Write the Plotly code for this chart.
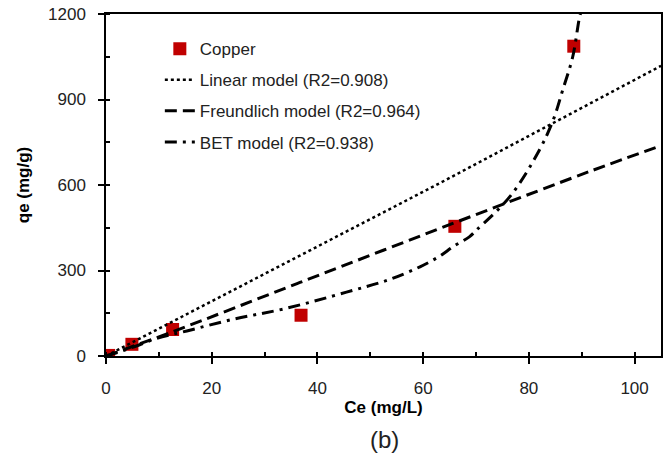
import plotly.graph_objects as go

# Experimental data
ce_copper = [0.5, 4.9, 12.6, 36.9, 66.0, 88.5]
qe_copper = [2, 41, 93, 143, 455, 1087]

# Model curves
ce_linear = [0, 36.7, 63.1, 105]
qe_linear = [0, 354, 606, 1018]

ce_freund = [0, 12.7, 36.7, 69.4, 92.0, 105]
qe_freund = [0, 86, 258, 492, 651, 738]

ce_bet = [0, 0.8, 5, 9.6, 15.3, 24.1, 33.8, 45.5, 53.7, 59.4, 63.1, 65.7, 68.8, 70.1,
          76.4, 82.0, 84.6, 86.4, 88.3, 89.6, 90.0]
qe_bet = [0, 4, 30, 62, 88, 129, 166, 224, 269, 313, 350, 384, 419, 442,
          559, 723, 828, 933, 1050, 1190, 1215]

legend_names = ["Copper", "Linear model (R2=0.908)", "Freundlich model (R2=0.964)",
                "BET model (R2=0.938)"]

x_ticks = [0, 20, 40, 60, 80, 100]
y_ticks = [0, 300, 600, 900, 1200]

FONT = "Liberation Sans, Arial, sans-serif"

fig = go.Figure()
fig.add_trace(go.Scatter(x=ce_copper, y=qe_copper, mode="markers", name=legend_names[0],
                         legendgroup="a",
                         marker=dict(symbol="square", size=13, color="#C00000")))
fig.add_trace(go.Scatter(x=ce_linear, y=qe_linear, mode="lines", name=legend_names[1],
                         legendgroup="b",
                         line=dict(color="black", width=2.5, dash="dot")))
fig.add_trace(go.Scatter(x=ce_freund, y=qe_freund, mode="lines", name=legend_names[2],
                         legendgroup="c", line_shape="spline",
                         line=dict(color="black", width=3, dash="12px,6px")))
fig.add_trace(go.Scatter(x=ce_bet, y=qe_bet, mode="lines", name=legend_names[3],
                         legendgroup="d", line_shape="spline",
                         line=dict(color="black", width=3, dash="12px,6px,3px,6px")))

axis_common = dict(showgrid=False, zeroline=False, showline=True, linecolor="black",
                   linewidth=1.5, mirror=True, ticks="outside", ticklen=6, tickwidth=1.5,
                   tickcolor="black", tickfont=dict(family=FONT, size=17, color="#222"))

fig.update_xaxes(range=[0, 105], tickvals=x_ticks, ticklabelstandoff=10,
                 minor=dict(dtick=10, tick0=0, ticks="inside", ticklen=4, tickwidth=1.5,
                            tickcolor="black"),
                 title=dict(text="<b>Ce (mg/L)</b>", standoff=3,
                            font=dict(family=FONT, size=17, color="black")),
                 **axis_common)
fig.update_yaxes(range=[0, 1200], tickvals=y_ticks, ticklabelstandoff=9,
                 minor=dict(dtick=150, tick0=0, ticks="inside", ticklen=4, tickwidth=1.5,
                            tickcolor="black"),
                 title=dict(text="<b>qe (mg/g)</b>", standoff=14,
                            font=dict(family=FONT, size=17, color="black")),
                 **axis_common)

fig.add_annotation(text="(b)", xref="paper", yref="paper", x=0.501, y=-0.245,
                   showarrow=False, xanchor="center", yanchor="middle",
                   font=dict(family=FONT, size=24, color="#222"))

fig.update_layout(
    width=672, height=461,
    margin=dict(l=106, r=11, t=14, b=105, autoexpand=False),
    paper_bgcolor="white", plot_bgcolor="white",
    font=dict(family=FONT, color="#222"),
    legend=dict(x=0.097, y=0.95, xanchor="left", yanchor="top",
                bgcolor="rgba(0,0,0,0)", tracegroupgap=6,
                font=dict(family=FONT, size=17, color="#222")),
)

fig.write_html("out.html")
